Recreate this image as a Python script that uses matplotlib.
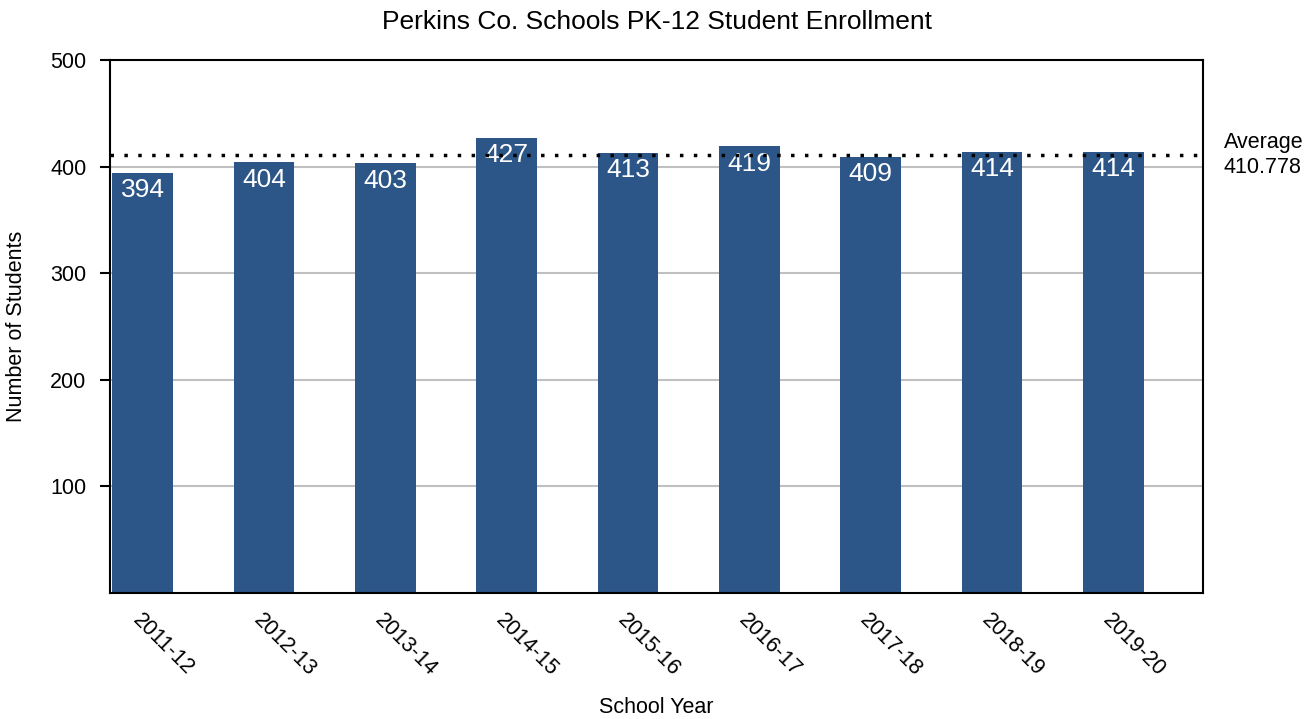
import matplotlib.pyplot as plt
import numpy as np

plt.rcParams['font.family'] = ['Liberation Sans', 'DejaVu Sans']

years = ['2011-12', '2012-13', '2013-14', '2014-15', '2015-16',
         '2016-17', '2017-18', '2018-19', '2019-20']
students = [394, 404, 403, 427, 413, 419, 409, 414, 414]
average = np.mean(students)

fig = plt.figure(figsize=(13.16, 7.19), dpi=100)
ax = fig.add_axes([110/1316, 1 - 593/719, (1203-110)/1316, (593-60)/719])

x = np.arange(len(years))
ax.set_axisbelow(True)
ax.yaxis.grid(True, color='#c0c0c0', linewidth=1.5)
bars = ax.bar(x, students, width=0.5, color='#2c5687', zorder=2)
for xi, v in zip(x, students):
    ax.text(xi, v - 5, str(v), color='white', fontsize=19, ha='center', va='top', zorder=3)

ax.axhline(average, color='black', linestyle=(0, (1, 3)), linewidth=2.5, zorder=4)
ax.text(1.019, average / 500, 'Average\n{:.3f}'.format(average), transform=ax.transAxes,
        fontsize=15.5, ha='left', va='center', linespacing=1.25)

ax.set_xlim(-0.27, 8.74)
ax.set_ylim(0, 500)
ax.set_yticks([100, 200, 300, 400, 500])
ax.tick_params(axis='y', labelsize=15.5, length=7, width=1.5, direction='out', pad=10)
ax.set_xticks(x)
ax.set_xticklabels(years, rotation=-45, ha='left', rotation_mode='anchor', fontsize=15.5)
ax.tick_params(axis='x', length=0, pad=12)
for s in ax.spines.values():
    s.set_linewidth(1.5)

ax.set_ylabel('Number of Students', fontsize=15.5)
ax.yaxis.set_label_coords(-0.076, 0.5)
ax.set_xlabel('School Year', fontsize=15.5, labelpad=12)
ax.set_title('Perkins Co. Schools PK-12 Student Enrollment', fontsize=19, pad=22)

fig.savefig('out.png', dpi=100)
